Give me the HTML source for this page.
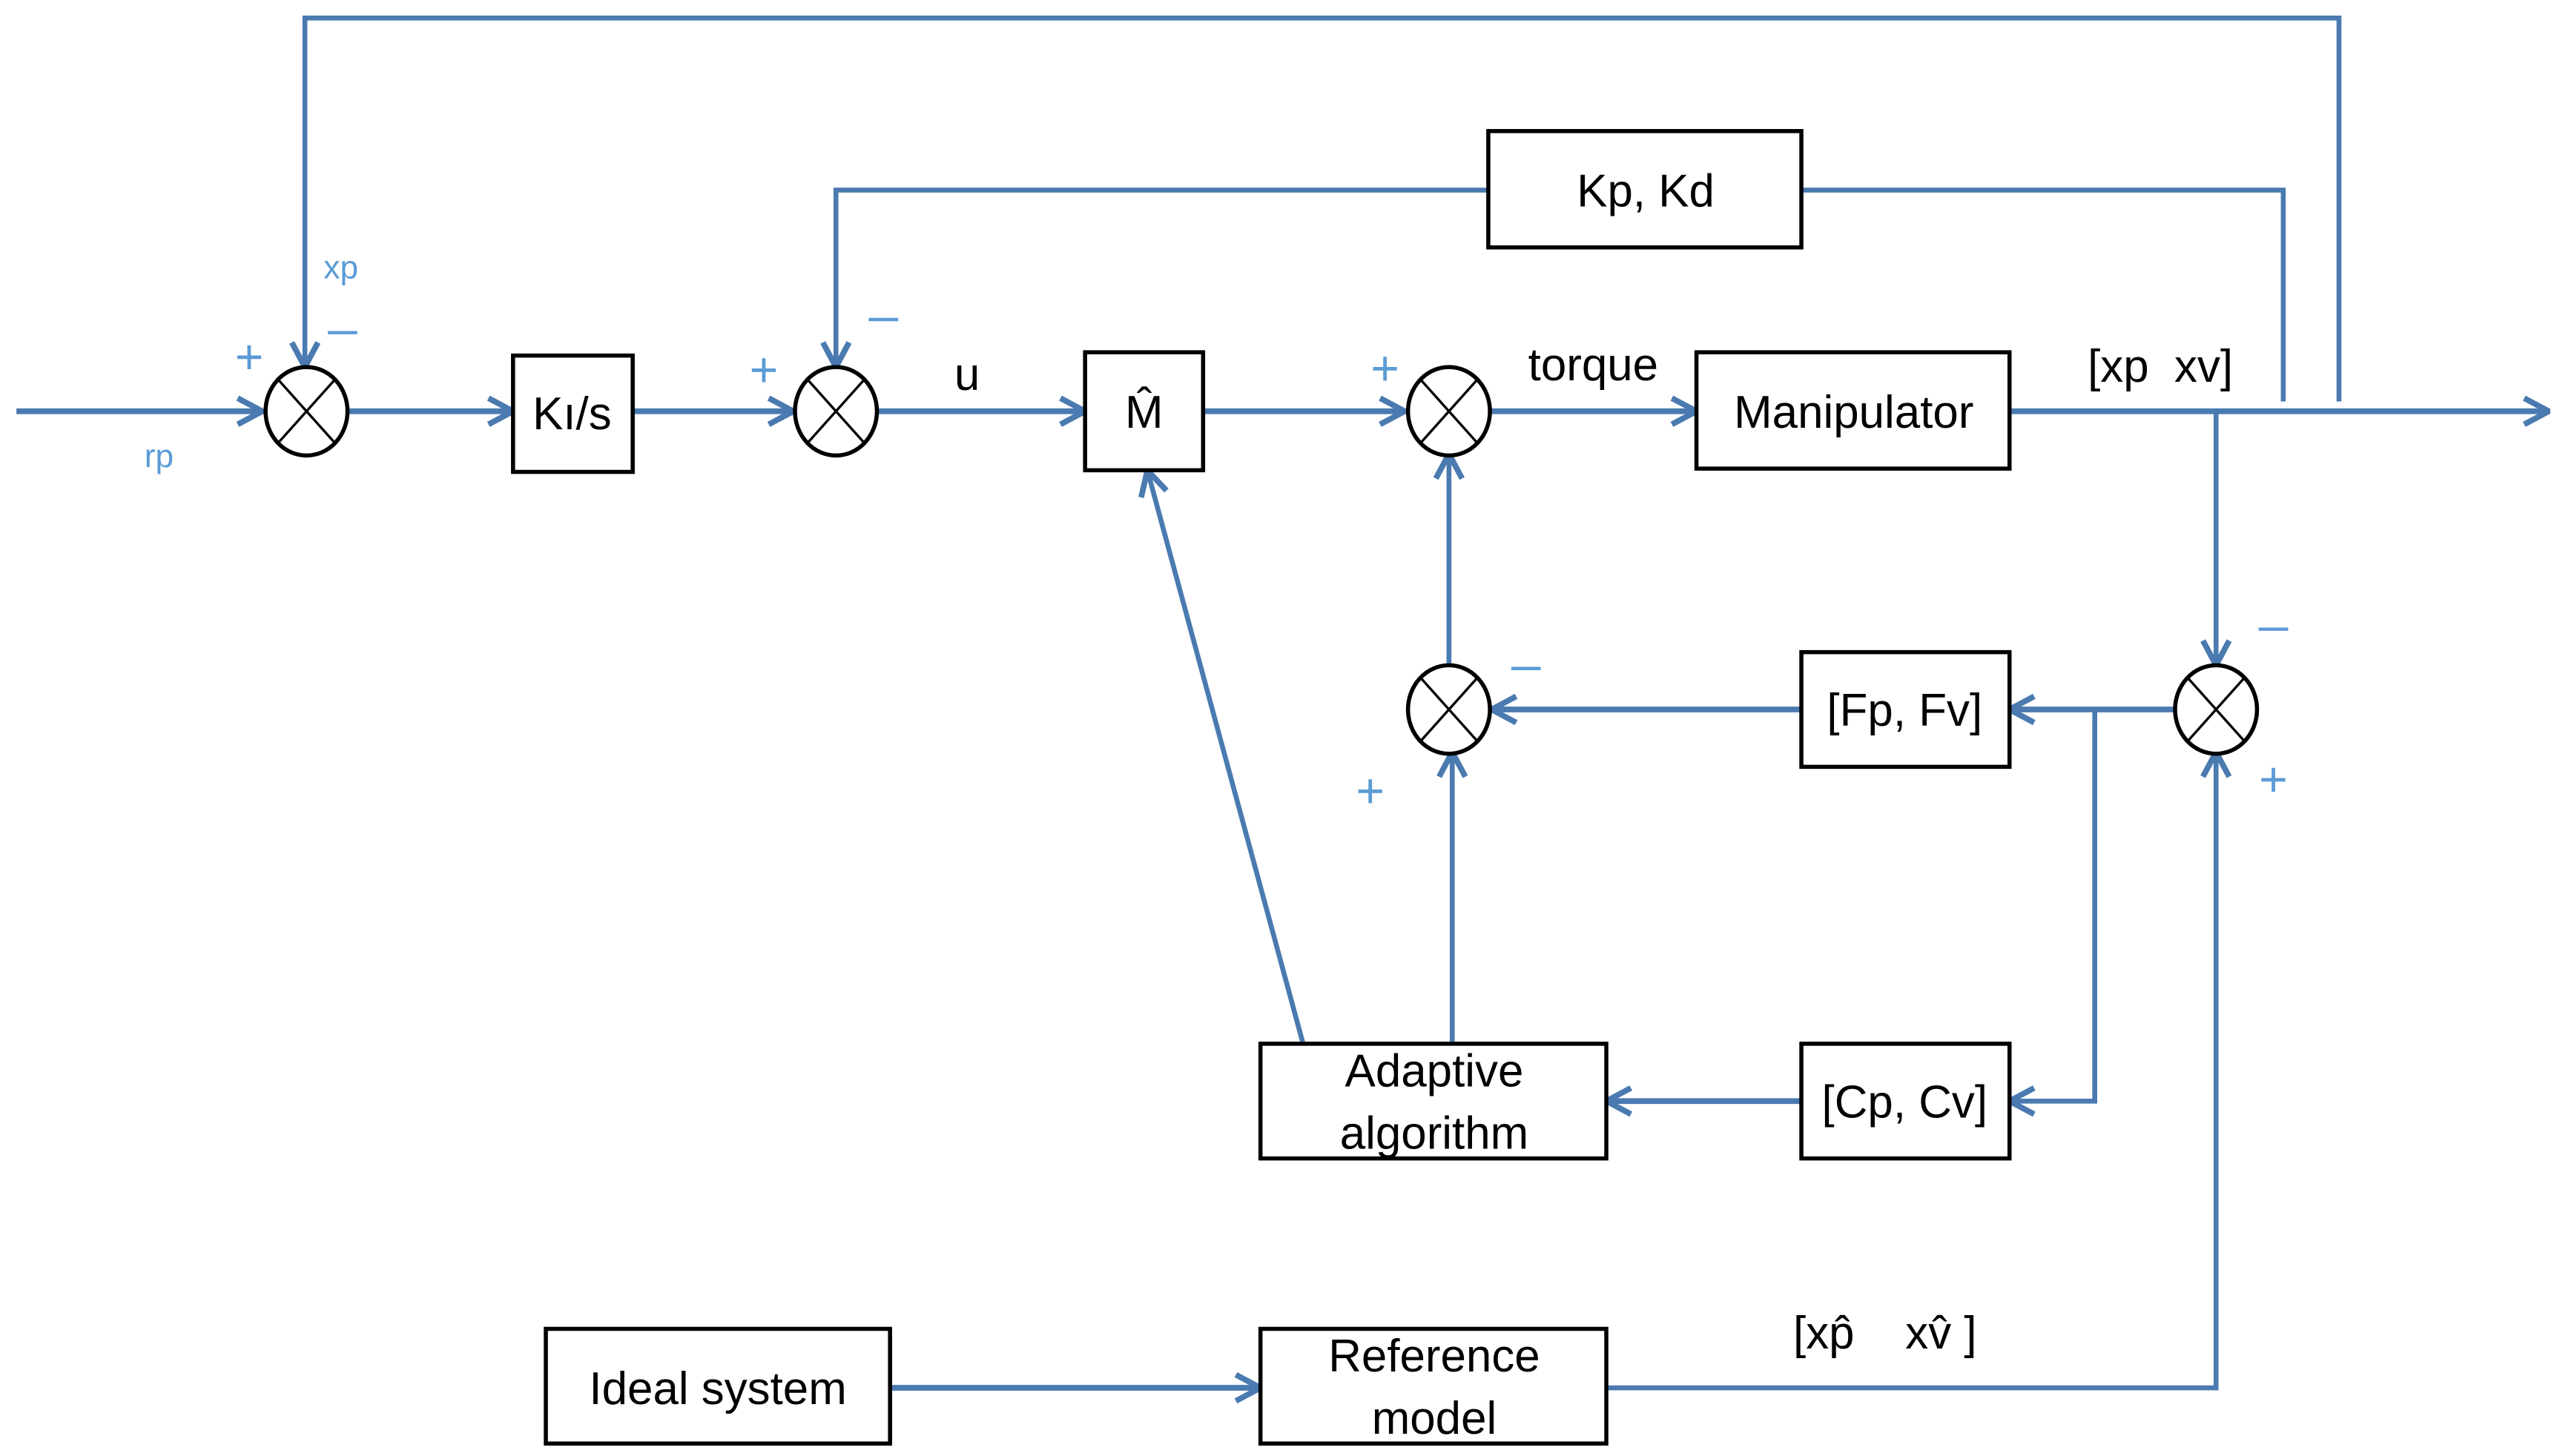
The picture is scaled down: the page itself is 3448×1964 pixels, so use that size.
<!DOCTYPE html>
<html><head><style>html,body{margin:0;padding:0;background:#fff}svg{display:block}</style></head>
<body>
<svg width="3448" height="1964" viewBox="0 0 1560 888.6" xmlns="http://www.w3.org/2000/svg" font-family="'Liberation Sans', sans-serif">
<defs>
<marker id="a" viewBox="0 0 20 20" refX="19" refY="10" markerWidth="20" markerHeight="20" markerUnits="userSpaceOnUse" orient="auto">
<path d="M4 2 L19 10 L4 18" fill="none" stroke="#4a7ab0" stroke-width="3.5"/>
</marker>
</defs>
<g fill="none" stroke="#4a7ab0" stroke-width="3.5">
<path d="M10 251 H160" marker-end="url(#a)"/>
<path d="M212 251 H313" marker-end="url(#a)"/>
<path d="M386 251 H484" marker-end="url(#a)"/>
<path d="M536 251 H662" marker-end="url(#a)"/>
<path d="M734 251 H857" marker-end="url(#a)"/>
<path d="M910 251 H1035" marker-end="url(#a)"/>
<path d="M1226 251 H1555" marker-end="url(#a)"/>
<path d="M1427 245 V11 H186 V224" stroke-width="3" marker-end="url(#a)"/>
<path d="M1099 116 H1393 V245" stroke-width="3"/>
<path d="M908 116 H510 V224" stroke-width="3" marker-end="url(#a)"/>
<path d="M1352 251 V406" stroke-width="3" marker-end="url(#a)"/>
<path d="M1326 433 H1226" marker-end="url(#a)"/>
<path d="M1278 433 V672 H1226" stroke-width="3" marker-end="url(#a)"/>
<path d="M1099 433 H910" marker-end="url(#a)"/>
<path d="M884 407 V277" stroke-width="3" marker-end="url(#a)"/>
<path d="M1099 672 H980" marker-end="url(#a)"/>
<path d="M886 637 V459" stroke-width="3" marker-end="url(#a)"/>
<path d="M795 637 L700 287" stroke-width="3" marker-end="url(#a)"/>
<path d="M543 847 H769" marker-end="url(#a)"/>
<path d="M980 847 H1352 V459" stroke-width="3" marker-end="url(#a)"/>
</g>
<g fill="#fff" stroke="#000" stroke-width="2.5">
<rect x="313" y="217" width="73" height="71"/>
<rect x="662" y="215" width="72" height="72"/>
<rect x="1035" y="215" width="191" height="71"/>
<rect x="908" y="80" width="191" height="71"/>
<rect x="1099" y="398" width="127" height="70"/>
<rect x="1099" y="637" width="127" height="70"/>
<rect x="769" y="637" width="211" height="70"/>
<rect x="333" y="811" width="210" height="70"/>
<rect x="769" y="811" width="211" height="70"/>
</g>
<g stroke="#000" stroke-width="2.5" fill="#fff">
<ellipse cx="187" cy="251" rx="25" ry="27"/>
<ellipse cx="510" cy="251" rx="25" ry="27"/>
<ellipse cx="884" cy="251" rx="25" ry="27"/>
<ellipse cx="884" cy="433" rx="25" ry="27"/>
<ellipse cx="1352" cy="433" rx="25" ry="27"/>
</g>
<g stroke="#000" stroke-width="1.5">
<path d="M170 232 L204 270 M204 232 L170 270"/>
<path d="M493 232 L527 270 M527 232 L493 270"/>
<path d="M867 232 L901 270 M901 232 L867 270"/>
<path d="M867 414 L901 452 M901 414 L867 452"/>
<path d="M1335 414 L1369 452 M1369 414 L1335 452"/>
</g>
<g font-size="28" fill="#000" text-anchor="middle">
<text x="349" y="262">Kı/s</text>
<text x="698" y="261">M̂</text>
<text x="1131" y="261">Manipulator</text>
<text x="1004" y="126">Kp, Kd</text>
<text x="1162" y="443">[Fp, Fv]</text>
<text x="1162" y="682">[Cp, Cv]</text>
<text x="875" y="663">Adaptive</text>
<text x="875" y="701">algorithm</text>
<text x="438" y="857">Ideal system</text>
<text x="875" y="837">Reference</text>
<text x="875" y="875">model</text>
<text x="590" y="238">u</text>
<text x="972" y="232">torque</text>
<text x="1318" y="233">[xp&#160;&#160;xv]</text>
<text x="1150" y="823">[xp̂&#160;&#160;&#160;&#160;xv̂&#160;]</text>
</g>
<g fill="#5b9bd5" font-size="20" text-anchor="middle">
<text x="97" y="285">rp</text>
<text x="208" y="170">xp</text>
</g>
<g fill="#5b9bd5" font-size="30" text-anchor="middle">
<text x="152" y="228">+</text>
<text x="466" y="236">+</text>
<text x="845" y="235">+</text>
<text x="836" y="493">+</text>
<text x="1387" y="486">+</text>
</g>
<g stroke="#5b9bd5" stroke-width="2">
<path d="M200 203 H218 M530 195 H548 M922 408 H940 M1378 384 H1396"/>
</g>
</svg>
</body></html>
